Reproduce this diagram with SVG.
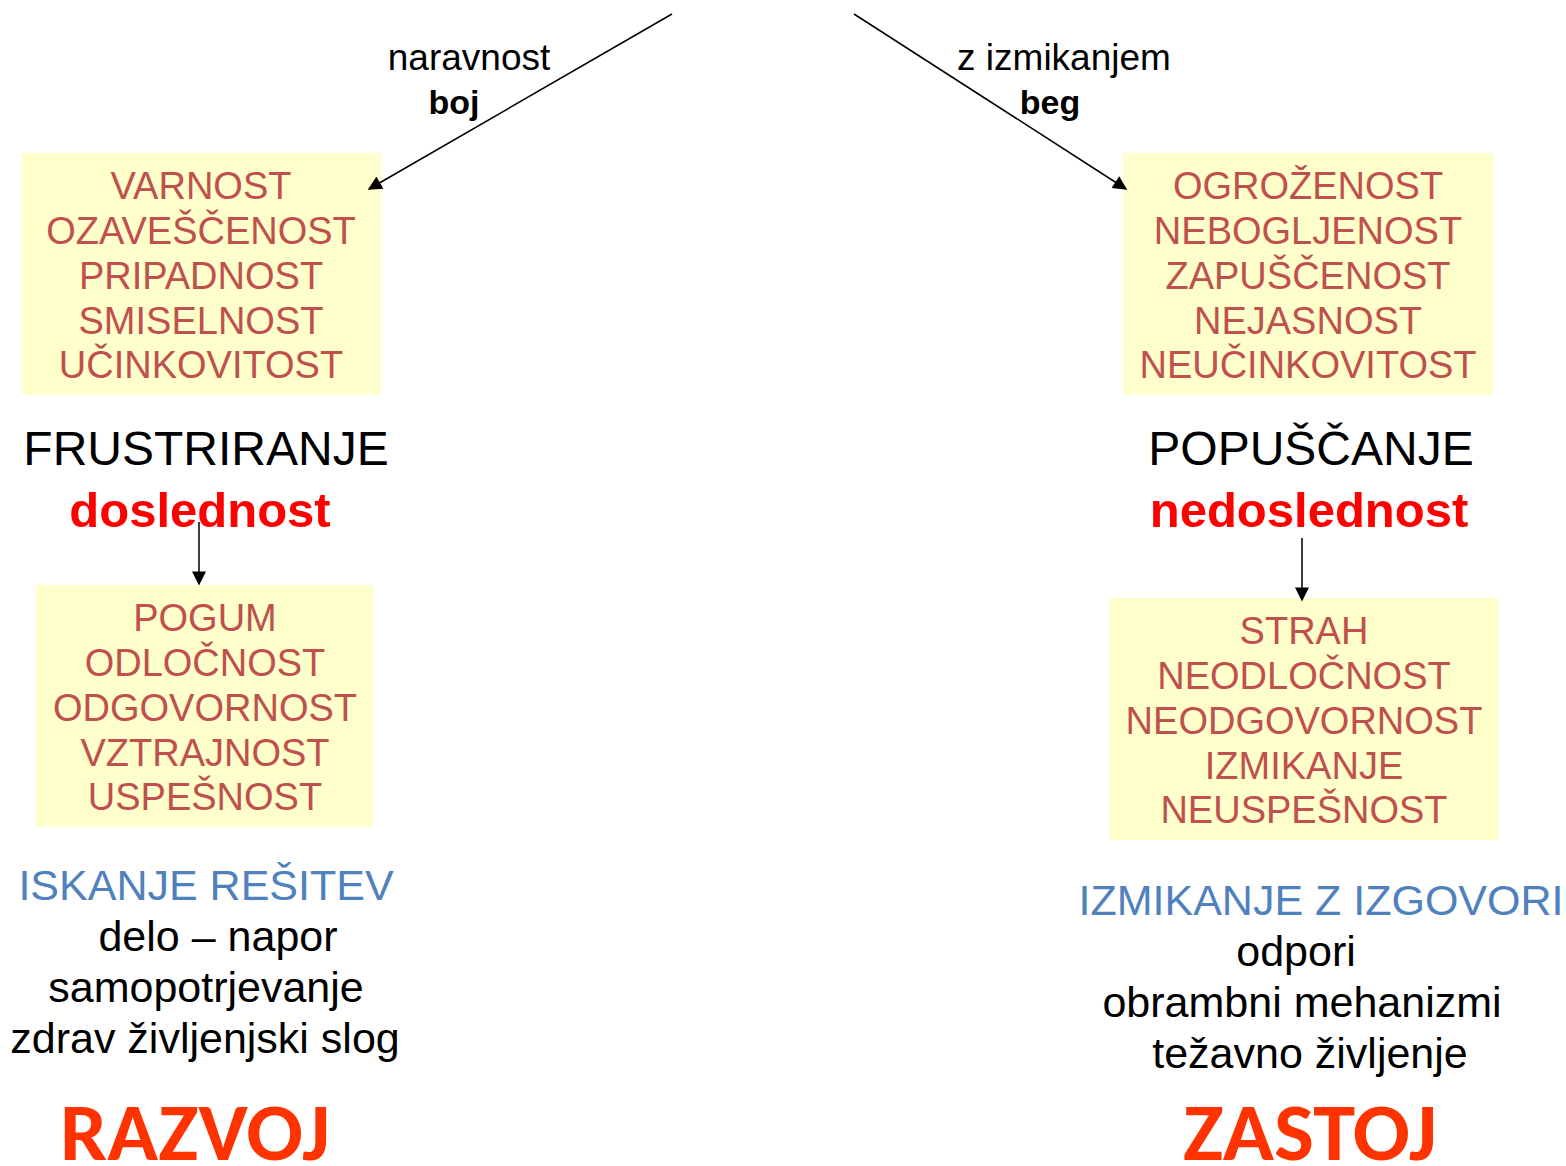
<svg xmlns="http://www.w3.org/2000/svg" width="1566" height="1166" viewBox="0 0 1566 1166">
<style>
text{font-family:"Liberation Sans",Arial,sans-serif;text-anchor:middle}
.lbl{font-size:37px;fill:#000}
.lb{font-size:34px;fill:#000;font-weight:bold}
.box{fill:#FFFFCC}
.bt{font-size:38px;fill:#C0504D}
.big{font-size:48px;fill:#000}
.red{font-size:49px;fill:#FF0000;font-weight:bold}
.blue{font-size:43px;fill:#4F81BD}
.sub{font-size:43px;fill:#000}
.res{font-family:Carlito,Lato,"Liberation Sans",sans-serif;font-size:80px;font-weight:bold;fill:#FF3300}
.ln{stroke:#000;stroke-width:1.5;fill:none}
</style>
<defs>
<marker id="ah" viewBox="0 0 10 10" refX="9" refY="5" markerWidth="16" markerHeight="14" markerUnits="userSpaceOnUse" orient="auto"><path d="M0,0L10,5L0,10z" fill="#000"/></marker>
</defs>
<g id="label-left">
<text class="lbl" x="469" y="70">naravnost</text>
<text class="lb" x="454" y="114">boj</text>
</g>
<g id="label-right">
<text class="lbl" x="1064" y="70">z izmikanjem</text>
<text class="lb" x="1050" y="114">beg</text>
</g>
<g id="box-left-1">
<rect class="box" x="22" y="153" width="359" height="242"/>
<text class="bt" x="201" y="199">VARNOST</text>
<text class="bt" x="201" y="244">OZAVEŠČENOST</text>
<text class="bt" x="201" y="289">PRIPADNOST</text>
<text class="bt" x="201" y="334">SMISELNOST</text>
<text class="bt" x="201" y="378">UČINKOVITOST</text>
</g>
<g id="box-right-1">
<rect class="box" x="1123" y="153" width="370" height="242"/>
<text class="bt" x="1308" y="199">OGROŽENOST</text>
<text class="bt" x="1308" y="244">NEBOGLJENOST</text>
<text class="bt" x="1308" y="289">ZAPUŠČENOST</text>
<text class="bt" x="1308" y="334">NEJASNOST</text>
<text class="bt" x="1308" y="378">NEUČINKOVITOST</text>
</g>
<g id="frustriranje">
<text class="big" x="206" y="465">FRUSTRIRANJE</text>
<text class="red" x="200" y="527">doslednost</text>
</g>
<g id="popuscanje">
<text class="big" x="1311" y="465">POPUŠČANJE</text>
<text class="red" x="1309" y="527">nedoslednost</text>
</g>
<g id="box-left-2">
<rect class="box" x="36" y="585" width="337" height="242"/>
<text class="bt" x="205" y="631">POGUM</text>
<text class="bt" x="205" y="676">ODLOČNOST</text>
<text class="bt" x="205" y="721">ODGOVORNOST</text>
<text class="bt" x="205" y="766">VZTRAJNOST</text>
<text class="bt" x="205" y="810">USPEŠNOST</text>
</g>
<g id="box-right-2">
<rect class="box" x="1109" y="598" width="390" height="242"/>
<text class="bt" x="1304" y="644">STRAH</text>
<text class="bt" x="1304" y="689">NEODLOČNOST</text>
<text class="bt" x="1304" y="734">NEODGOVORNOST</text>
<text class="bt" x="1304" y="779">IZMIKANJE</text>
<text class="bt" x="1304" y="823">NEUSPEŠNOST</text>
</g>
<g id="iskanje">
<text class="blue" x="206" y="900">ISKANJE REŠITEV</text>
<text class="sub" x="218" y="951">delo – napor</text>
<text class="sub" x="206" y="1002">samopotrjevanje</text>
<text class="sub" x="205" y="1053">zdrav življenjski slog</text>
</g>
<g id="izmikanje">
<text class="blue" x="1321" y="915">IZMIKANJE Z IZGOVORI</text>
<text class="sub" x="1296" y="966">odpori</text>
<text class="sub" x="1302" y="1017">obrambni mehanizmi</text>
<text class="sub" x="1310" y="1068">težavno življenje</text>
</g>
<g id="razvoj">
<text class="res" x="195" y="1160" textLength="270" lengthAdjust="spacingAndGlyphs">RAZVOJ</text>
</g>
<g id="zastoj">
<text class="res" x="1310" y="1160" textLength="254" lengthAdjust="spacingAndGlyphs">ZASTOJ</text>
</g>
<g id="connectors">
<line class="ln" x1="672" y1="14" x2="369" y2="189" marker-end="url(#ah)"/>
<line class="ln" x1="854" y1="14" x2="1126" y2="189" marker-end="url(#ah)"/>
<line class="ln" x1="199" y1="522" x2="199" y2="584" marker-end="url(#ah)"/>
<line class="ln" x1="1302" y1="538" x2="1302" y2="600" marker-end="url(#ah)"/>
</g>
</svg>
